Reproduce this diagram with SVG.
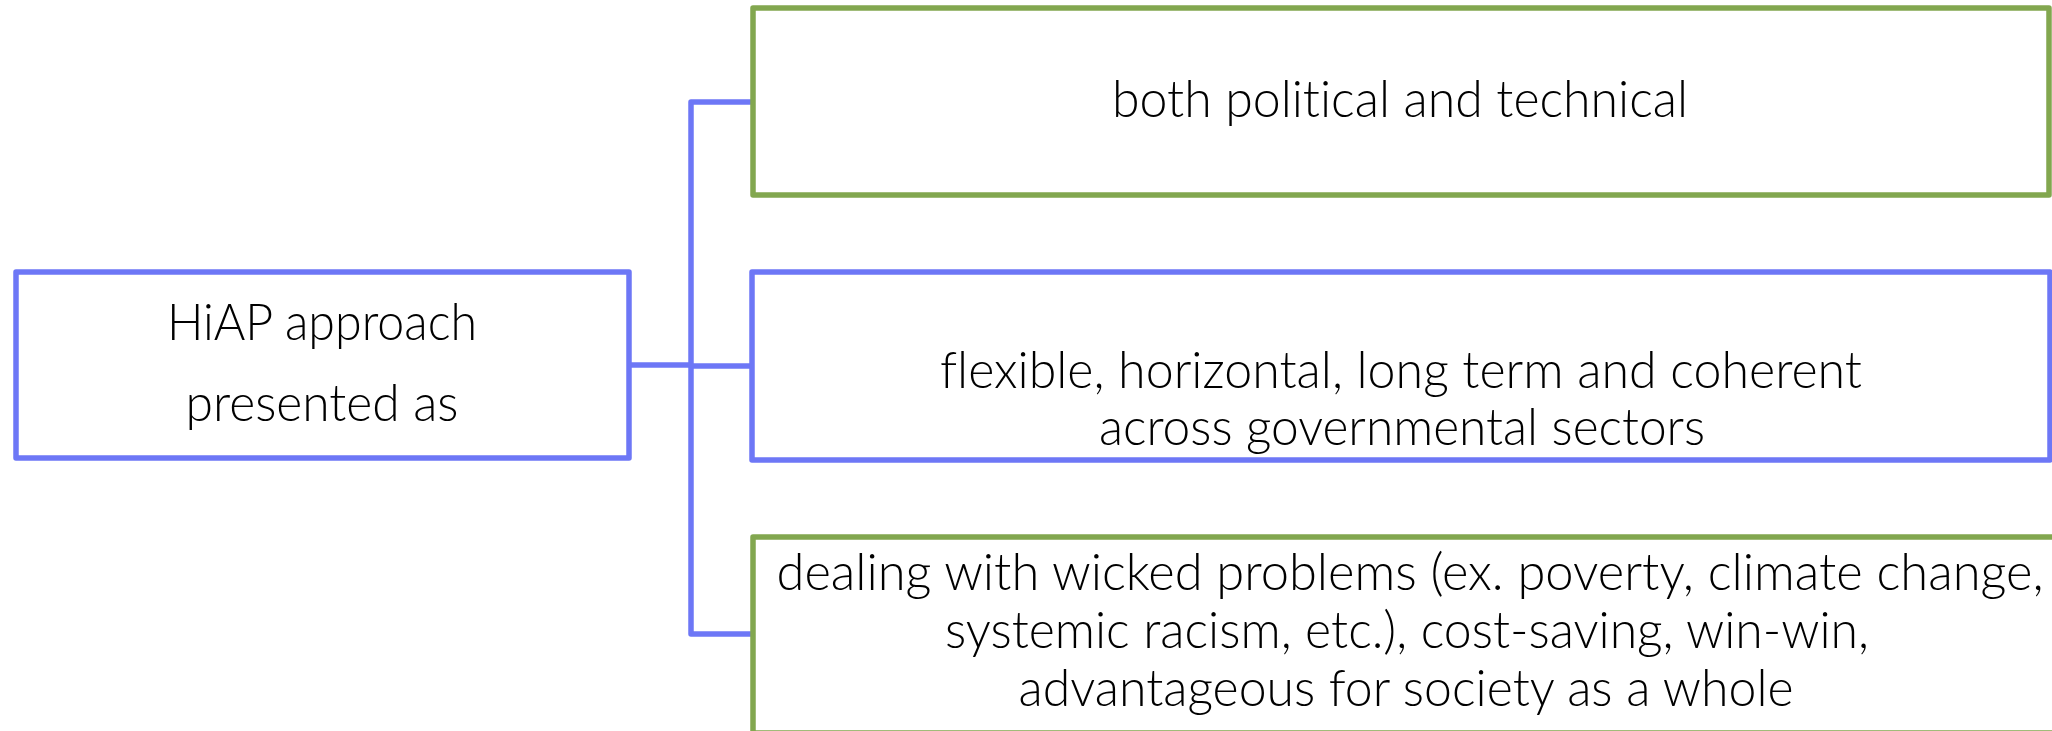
<svg xmlns="http://www.w3.org/2000/svg" width="2052" height="731" viewBox="0 0 2052 731">
<style>
.box{fill:#ffffff;stroke-width:5.5;stroke-linejoin:round}
.blue{stroke:#6D77F6}
.green{stroke:#82A74F}
.conn{fill:none;stroke:#6D77F6;stroke-width:5.5;stroke-linejoin:round;stroke-linecap:butt}
text{font-family:Lato,"Open Sans","Liberation Sans",sans-serif;font-weight:300;font-size:51px;fill:#000000;text-anchor:middle;font-variant-ligatures:none;font-feature-settings:"liga" 0,"clig" 0,"dlig" 0}
</style>
<rect width="2052" height="731" fill="#ffffff"/>
<g id="connectors">
<path class="conn" d="M752,102 H691 V634 H752"/>
<path class="conn" d="M629,365 H691"/>
<path class="conn" d="M691,366 H752"/>
</g>
<g id="node-hiap">
<rect class="box blue" x="16" y="272" width="613" height="186"/>
<text x="322" y="340" textLength="310" lengthAdjust="spacingAndGlyphs">HiAP approach</text>
<text x="322" y="421" textLength="273" lengthAdjust="spacingAndGlyphs">presented as</text>
</g>
<g id="node-political">
<rect class="box green" x="753" y="8" width="1296" height="187"/>
<text x="1400" y="117" textLength="576" lengthAdjust="spacingAndGlyphs">both political and technical</text>
</g>
<g id="node-flexible">
<rect class="box blue" x="752" y="272" width="1298" height="188"/>
<text x="1401" y="388" textLength="922" lengthAdjust="spacingAndGlyphs">flexible, horizontal, long term and coherent</text>
<text x="1402" y="445" textLength="606" lengthAdjust="spacingAndGlyphs">across governmental sectors</text>
</g>
<g id="node-wicked">
<rect class="box green" x="753" y="537" width="1320" height="196"/>
<text x="1410" y="590" textLength="1267" lengthAdjust="spacingAndGlyphs">dealing with wicked problems (ex. poverty, climate change,</text>
<text x="1407" y="648" textLength="924" lengthAdjust="spacingAndGlyphs">systemic racism, etc.), cost-saving, win-win,</text>
<text x="1406" y="706" textLength="775" lengthAdjust="spacingAndGlyphs">advantageous for society as a whole</text>
</g>
</svg>
